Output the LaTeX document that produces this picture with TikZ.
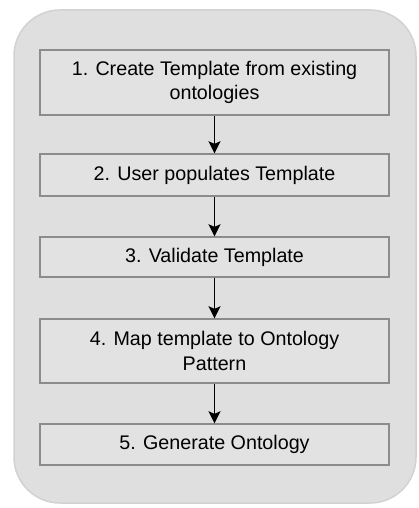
\documentclass[tikz,border=0pt]{standalone}
\usepackage{fontspec}
\setmainfont{Liberation Sans}
\usetikzlibrary{arrows.meta}
\definecolor{panelfill}{HTML}{DFDFDF}
\definecolor{paneledge}{HTML}{D2D2D2}
\definecolor{boxfill}{HTML}{E2E2E2}
\definecolor{boxedge}{HTML}{8C8C8C}
\tikzset{
  stepbox/.style={draw=boxedge, fill=boxfill, line width=1.4pt, minimum width=349pt,
    inner sep=0pt, align=center, text=black,
    font=\fontsize{19.7}{24.5}\selectfont},
  flow/.style={line width=1.9pt, -{Stealth[length=12pt,width=12pt,inset=2.5pt]}}
}
\begin{document}
\begin{tikzpicture}[x=1pt,y=-1pt]
\useasboundingbox (0,0) rectangle (419,508);
\fill[white] (0,0) rectangle (419,508);
\draw[paneledge, fill=panelfill, line width=1.5pt, rounded corners=46pt] (14,10) rectangle (416,503);
\node[stepbox, minimum height=65pt] (s1) at (214.5,82.5) {1. Create Template from existing\\ontologies};
\node[stepbox, minimum height=42pt] (s2) at (214.5,175) {2. User populates Template};
\node[stepbox, minimum height=40pt] (s3) at (214.5,257) {3. Validate Template};
\node[stepbox, minimum height=64pt] (s4) at (214.5,351) {4. Map template to Ontology\\Pattern};
\node[stepbox, minimum height=41pt] (s5) at (214.5,444.5) {5. Generate Ontology};
\draw[flow] (s1) -- (s2);
\draw[flow] (s2) -- (s3);
\draw[flow] (s3) -- (s4);
\draw[flow] (s4) -- (s5);
\end{tikzpicture}
\end{document}
